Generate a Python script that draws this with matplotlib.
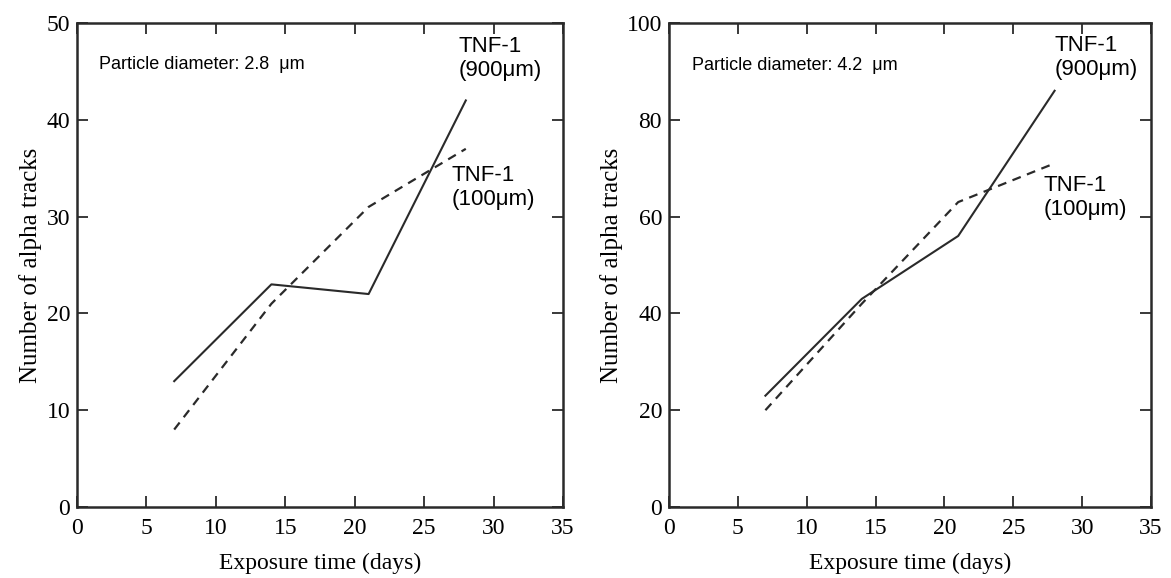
import matplotlib.pyplot as plt

# exposure times (days) and track counts for the two particle sizes
days = [7, 14, 21, 28]

small_900 = [13, 23, 22, 42]
small_100 = [8, 21, 31, 37]

large_900 = [23, 43, 56, 86]
large_100 = [20, 42, 63, 71]

serif = ['Liberation Serif', 'DejaVu Serif']
sans = ['Liberation Sans', 'DejaVu Sans']
ink = '#2a2a2a'


def style_axes(ax, ymax, ystep):
    ax.set_xlim(0, 35)
    ax.set_ylim(0, ymax)
    ax.set_xticks(range(0, 36, 5))
    ax.set_yticks(range(0, ymax + 1, ystep))
    ax.tick_params(direction='in', length=8, width=1.3, color=ink,
                   top=True, right=True, labelsize=17, pad=5)
    ax.tick_params(axis='x', pad=8)
    for lab in ax.get_xticklabels() + ax.get_yticklabels():
        lab.set_family(serif)
    for sp in ax.spines.values():
        sp.set_linewidth(1.8)
        sp.set_color(ink)
    ax.set_xlabel('Exposure time (days)', family=serif, fontsize=17, labelpad=10)
    ax.set_ylabel('Number of alpha tracks', family=serif, fontsize=18, labelpad=3)


fig = plt.figure(figsize=(11.71, 5.78), dpi=100)
ax1 = fig.add_axes([77 / 1171, 71 / 578, 486 / 1171, 484 / 578])
ax2 = fig.add_axes([669 / 1171, 71 / 578, 482 / 1171, 484 / 578])

ax1.plot(days, small_900, color=ink, lw=1.5)
ax1.plot(days, small_100, color=ink, lw=1.6, linestyle=(0, (4, 3)))
style_axes(ax1, 50, 10)
ax1.text(1.6, 45.7, 'Particle diameter: 2.8  μm', family=sans, fontsize=13, va='center')
ax1.text(27.5, 48.7, 'TNF-1\n(900μm)', family=sans, fontsize=16, va='top', linespacing=1.2)
ax1.text(27.0, 35.3, 'TNF-1\n(100μm)', family=sans, fontsize=16, va='top', linespacing=1.2)

ax2.plot(days, large_900, color=ink, lw=1.5)
ax2.plot(days, large_100, color=ink, lw=1.6, linestyle=(0, (4, 3)))
style_axes(ax2, 100, 20)
ax2.text(1.7, 91.3, 'Particle diameter: 4.2  μm', family=sans, fontsize=13, va='center')
ax2.text(28.0, 97.6, 'TNF-1\n(900μm)', family=sans, fontsize=16, va='top', linespacing=1.2)
ax2.text(27.2, 68.6, 'TNF-1\n(100μm)', family=sans, fontsize=16, va='top', linespacing=1.2)

fig.savefig('out.png', dpi=100)
